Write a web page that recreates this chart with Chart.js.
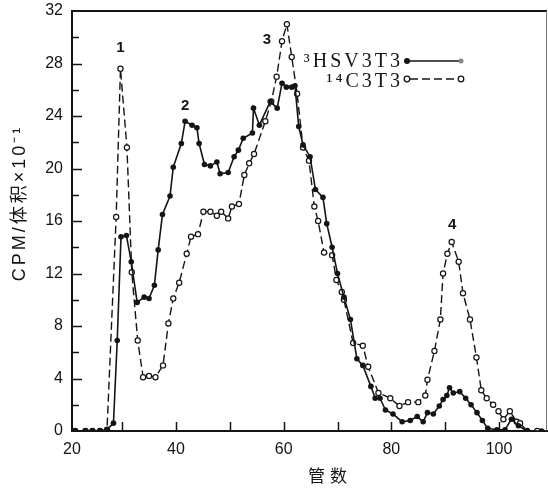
<!DOCTYPE html>
<html>
<head>
<meta charset="utf-8">
<script src="https://cdn.jsdelivr.net/npm/chart.js@4/dist/chart.umd.min.js"></script>
<style>
  html, body { margin: 0; padding: 0; background: #fff; }
  canvas { display: block; }
</style>
</head>
<body>
<canvas id="fraction-chart" width="548" height="490"></canvas>
<script>
// 3H-HSV 3T3 cells (solid line, filled dots)
const tubeHSV = [21.3, 23.2, 24.5, 25.9, 27.2, 28.4, 29.1, 29.8, 30.8, 31.7, 32.8, 34.1, 35.0, 36.0, 36.7,
    37.5, 38.9, 39.5, 41.0, 41.7, 43.0, 43.9, 44.3, 45.3, 46.4, 47.6, 48.2, 49.7, 50.8, 51.6, 52.5, 54.2,
    54.4, 55.5, 57.5, 58.8, 59.7, 60.5, 61.5, 62.1, 62.8, 63.6, 64.9, 65.9, 67.3, 68.0, 69.0, 70.0, 71.2,
    72.4, 73.6, 74.7, 76.2, 77.0, 77.9, 78.9, 80.3, 82.0, 83.5, 84.8, 85.9, 86.7, 87.8, 88.9, 89.6, 90.3,
    90.8, 91.5, 92.7, 93.8, 94.8, 95.9, 96.9, 97.9, 99.6, 101.1, 102.3, 103.6, 105.2, 107.9];
const cpmHSV = [0, 0, 0, 0, 0.1, 0.6, 6.9, 14.8, 14.9, 12.9, 9.8, 10.2, 10.1, 11.1, 13.8,
    16.5, 17.9, 20.1, 21.9, 23.6, 23.3, 23.1, 21.9, 20.3, 20.2, 20.5, 19.6, 19.7, 20.9, 21.4, 22.3, 22.7,
    24.6, 23.3, 25.1, 24.6, 26.5, 26.2, 26.2, 26.3, 23.2, 21.8, 20.9, 18.4, 17.8, 15.8, 14.0, 12.0, 10.2,
    8.5, 5.5, 5.0, 3.4, 2.5, 2.5, 1.6, 1.3, 0.7, 0.8, 1.1, 0.7, 1.4, 1.3, 1.9, 2.4, 2.7,
    3.3, 2.9, 3.0, 2.5, 2.0, 1.4, 0.8, 0.2, 0.1, 0.1, 0.9, 0.4, 0, 0];

// 14C 3T3 cells (dashed line, open circles)
const tubeC3T3 = [21.3, 23.2, 24.5, 25.9, 27.2, 28.9, 29.7, 30.9, 31.8, 32.9, 33.9, 35.0, 36.2, 37.6,
    38.6, 39.5, 40.6, 42.0, 42.8, 44.1, 45.1, 46.4, 47.6, 48.4, 49.7, 50.4, 51.7, 52.7, 53.6, 54.5, 56.6,
    57.7, 58.7, 59.7, 60.6, 61.5, 62.5, 63.6, 64.7, 65.7, 66.4, 67.5, 69.0, 69.8, 70.8, 71.2, 72.9, 74.7,
    75.7, 77.6, 79.8, 81.5, 83.1, 85.0, 86.3, 86.7, 88.0, 89.1, 89.6, 90.4, 91.2, 92.5, 93.3, 94.6, 95.8,
    96.7, 97.7, 98.9, 99.9, 100.8, 102.0, 103.3, 103.9, 105.2, 107.1];
const cpmC3T3 = [0, 0, 0, 0, 0.1, 16.3, 27.6, 21.6, 12.1, 6.9, 4.1, 4.2, 4.1, 5.0,
    8.2, 10.1, 11.3, 13.5, 14.8, 15.0, 16.7, 16.7, 16.4, 16.7, 16.2, 17.1, 17.3, 19.5, 20.4, 21.1, 23.6,
    25.1, 27.0, 29.7, 31.0, 28.5, 25.7, 21.6, 20.6, 17.1, 16.0, 13.6, 13.4, 11.5, 10.6, 10.0, 6.7, 6.5,
    4.9, 2.9, 2.5, 1.9, 2.2, 2.2, 2.7, 3.9, 6.1, 8.5, 12.0, 13.5, 14.4, 12.9, 10.5, 8.5, 5.6,
    3.1, 2.5, 2.0, 1.5, 0.9, 1.5, 0.7, 0.6, 0, 0];

const xTickValues = [20, 30, 40, 50, 60, 70, 80, 90, 100];

// peak numbers and where they sit (tube, cpm)
const peakNames = ['1', '2', '3', '4'];
const peakTube = [29.7, 41.7, 56.9, 91.3];
const peakCpm = [29.2, 24.8, 29.8, 15.7];

const ink = '#141414';

const decor = {
    id: 'decor',
    afterDraw(chart) {
        const ctx = chart.ctx;
        const xs = chart.scales.x;
        const ys = chart.scales.y;
        const area = chart.chartArea;
        ctx.save();
        ctx.strokeStyle = ink;

        // frame top + right
        ctx.lineWidth = 2;
        ctx.beginPath();
        ctx.moveTo(area.left, area.top);
        ctx.lineTo(area.right, area.top);
        ctx.stroke();
        ctx.lineWidth = 1;
        ctx.strokeStyle = '#777';
        ctx.beginPath();
        ctx.moveTo(area.right - 0.5, area.top);
        ctx.lineTo(area.right - 0.5, area.bottom);
        ctx.stroke();

        // inward ticks
        ctx.strokeStyle = ink;
        ctx.lineWidth = 1.5;
        ys.ticks.forEach(t => {
            if (t.value === 0 || t.value === 32) return;
            const py = Math.round(ys.getPixelForValue(t.value)) + 0.5;
            const len = t.value % 4 === 0 ? 10 : 7;
            ctx.beginPath();
            ctx.moveTo(area.left, py);
            ctx.lineTo(area.left + len, py);
            ctx.stroke();
        });
        xs.ticks.forEach(t => {
            if (t.value <= xs.min) return;
            const px = Math.round(xs.getPixelForValue(t.value)) + 0.5;
            ctx.beginPath();
            ctx.moveTo(px, area.bottom);
            ctx.lineTo(px, area.bottom - 9);
            ctx.stroke();
        });

        // axis titles
        ctx.fillStyle = ink;
        ctx.font = '17px "Noto Sans CJK SC", "Liberation Sans", sans-serif';
        ctx.letterSpacing = '5px';
        ctx.textAlign = 'center';
        ctx.textBaseline = 'middle';
        ctx.fillText('管数', 330, 476);
        ctx.letterSpacing = '3px';
        ctx.save();
        ctx.translate(20, 203);
        ctx.rotate(-Math.PI / 2);
        ctx.font = '18px "Liberation Sans", "Noto Sans CJK SC", sans-serif';
        ctx.fillText('CPM/体积×10⁻¹', 0, 0);
        ctx.restore();
        ctx.letterSpacing = '0px';

        // peak numbers
        ctx.font = 'bold 15px "Liberation Sans", sans-serif';
        peakNames.forEach((name, i) => {
            ctx.fillText(name, xs.getPixelForValue(peakTube[i]), ys.getPixelForValue(peakCpm[i]));
        });

        // legend
        ctx.font = '20px "Liberation Serif", serif';
        ctx.letterSpacing = '3px';
        ctx.textAlign = 'right';
        ctx.textBaseline = 'alphabetic';
        ctx.fillText('³HSV3T3', 403, 67);
        ctx.fillText('¹⁴C3T3', 403, 87);
        ctx.letterSpacing = '0px';

        ctx.lineWidth = 1.5;
        ctx.beginPath();
        ctx.moveTo(407, 61);
        ctx.lineTo(461, 61);
        ctx.stroke();
        ctx.beginPath();
        ctx.arc(407, 61, 3, 0, Math.PI * 2);
        ctx.fill();
        ctx.fillStyle = '#888';
        ctx.beginPath();
        ctx.arc(461, 61, 2.5, 0, Math.PI * 2);
        ctx.fill();

        ctx.setLineDash([8, 4]);
        ctx.beginPath();
        ctx.moveTo(410, 79);
        ctx.lineTo(458, 79);
        ctx.stroke();
        ctx.setLineDash([]);
        ctx.fillStyle = '#fff';
        ctx.lineWidth = 1.3;
        [407, 461].forEach(cx => {
            ctx.beginPath();
            ctx.arc(cx, 79, 2.8, 0, Math.PI * 2);
            ctx.fill();
            ctx.stroke();
        });

        ctx.restore();
    }
};

const tickFont = { family: '"Liberation Sans", Arial, sans-serif', size: 16 };

new Chart(document.getElementById('fraction-chart').getContext('2d'), {
    type: 'line',
    data: {
        datasets: [{
            label: '³HSV3T3',
            data: tubeHSV.map((t, i) => ({ x: t, y: cpmHSV[i] })),
            borderColor: ink,
            borderWidth: 1.6,
            backgroundColor: ink,
            pointRadius: 2.8,
            pointBorderWidth: 0,
            tension: 0,
        }, {
            label: '¹⁴C3T3',
            data: tubeC3T3.map((t, i) => ({ x: t, y: cpmC3T3[i] })),
            borderColor: ink,
            borderWidth: 1.4,
            borderDash: [8, 4],
            backgroundColor: '#fff',
            pointRadius: 2.6,
            pointBorderWidth: 1.2,
            pointBorderColor: ink,
            tension: 0,
        }]
    },
    options: {
        responsive: false,
        animation: false,
        devicePixelRatio: 1,
        layout: { autoPadding: false, padding: { top: 11, right: 1, left: 0, bottom: 0 } },
        scales: {
            x: {
                type: 'linear',
                min: 20.7,
                max: 108.9,
                afterBuildTicks: s => { s.ticks = xTickValues.map(v => ({ value: Math.max(v, s.min) })); },
                afterFit: s => {
                    s.height = 59;
                    s.paddingLeft = 0;
                    s.paddingRight = 0;
                },
                ticks: {
                    autoSkip: false,
                    maxRotation: 0,
                    padding: 9,
                    color: ink,
                    font: tickFont,
                    callback: v => (Math.floor(v) % 20 === 0 ? String(Math.floor(v)) : '')
                },
                grid: { drawOnChartArea: false, drawTicks: false },
                border: { color: ink, width: 2 }
            },
            y: {
                min: 0,
                max: 32,
                afterFit: s => {
                    s.width = 72;
                    s.paddingTop = 0;
                    s.paddingBottom = 0;
                },
                ticks: {
                    stepSize: 2,
                    padding: 9,
                    color: ink,
                    font: tickFont,
                    callback: v => (v % 4 === 0 ? v : '')
                },
                grid: { drawOnChartArea: false, drawTicks: false },
                border: { color: ink, width: 2 }
            }
        },
        plugins: {
            legend: { display: false },
            tooltip: { enabled: false }
        }
    },
    plugins: [decor]
});
</script>
</body>
</html>
